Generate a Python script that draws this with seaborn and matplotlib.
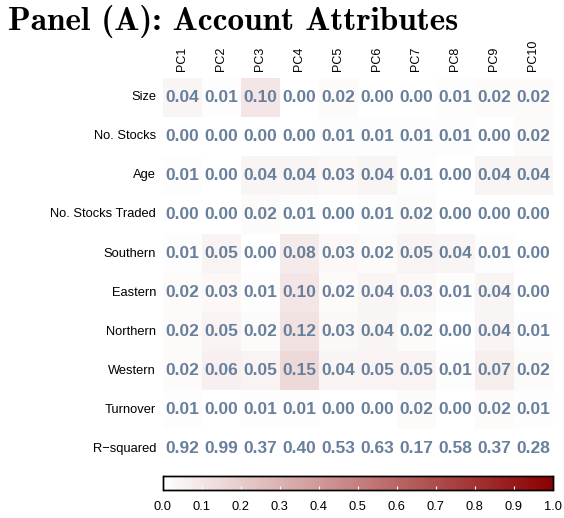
import numpy as np
import pandas as pd
import matplotlib
matplotlib.use('Agg')
import matplotlib.pyplot as plt
from matplotlib.colors import LinearSegmentedColormap
import seaborn as sns

# Data
rows = ['Size', 'No. Stocks', 'Age', 'No. Stocks Traded', 'Southern',
        'Eastern', 'Northern', 'Western', 'Turnover', 'R\u2212squared']
cols = ['PC1', 'PC2', 'PC3', 'PC4', 'PC5', 'PC6', 'PC7', 'PC8', 'PC9', 'PC10']

size = [0.04, 0.01, 0.10, 0.00, 0.02, 0.00, 0.00, 0.01, 0.02, 0.02]
no_stocks = [0.00, 0.00, 0.00, 0.00, 0.01, 0.01, 0.01, 0.01, 0.00, 0.02]
age = [0.01, 0.00, 0.04, 0.04, 0.03, 0.04, 0.01, 0.00, 0.04, 0.04]
no_traded = [0.00, 0.00, 0.02, 0.01, 0.00, 0.01, 0.02, 0.00, 0.00, 0.00]
southern = [0.01, 0.05, 0.00, 0.08, 0.03, 0.02, 0.05, 0.04, 0.01, 0.00]
eastern = [0.02, 0.03, 0.01, 0.10, 0.02, 0.04, 0.03, 0.01, 0.04, 0.00]
northern = [0.02, 0.05, 0.02, 0.12, 0.03, 0.04, 0.02, 0.00, 0.04, 0.01]
western = [0.02, 0.06, 0.05, 0.15, 0.04, 0.05, 0.05, 0.01, 0.07, 0.02]
turnover = [0.01, 0.00, 0.01, 0.01, 0.00, 0.00, 0.02, 0.00, 0.02, 0.01]
r_squared = [0.92, 0.99, 0.37, 0.40, 0.53, 0.63, 0.17, 0.58, 0.37, 0.28]

vals = pd.DataFrame([size, no_stocks, age, no_traded, southern, eastern,
                     northern, western, turnover, r_squared],
                    index=rows, columns=cols)
# R-squared row is not shaded
shade = vals.copy()
shade.iloc[-1] = 0.0

cmap = LinearSegmentedColormap.from_list('wr', ['#ffffff', '#8b0000'])

plt.rcParams['font.family'] = ['Liberation Sans', 'DejaVu Sans']

fig = plt.figure(figsize=(5.64, 5.18), dpi=100)
ax = fig.add_axes([0.289, 0.0955, 0.691, 0.7545])
cax = fig.add_axes([0.289, 0.054, 0.691, 0.027])

sns.heatmap(shade, ax=ax, cmap=cmap, vmin=0, vmax=1,
            annot=vals.values, fmt='.2f',
            annot_kws={'color': '#68809c', 'fontsize': 12.5, 'fontweight': 'bold'},
            cbar_ax=cax, cbar_kws={'orientation': 'horizontal',
                                   'ticks': np.arange(0, 1.01, 0.1)})

ax.xaxis.tick_top()
ax.set_xticklabels(cols, rotation=90, fontsize=9)
ax.set_yticklabels(rows, rotation=0, fontsize=9.3)
ax.tick_params(length=0, pad=5)
ax.set_xlabel('')
ax.set_ylabel('')

cax.tick_params(labelsize=9.3, length=3, direction='in', color='white', pad=8)
cax.set_xticklabels(['%.1f' % t for t in np.arange(0, 1.01, 0.1)])
for s in cax.spines.values():
    s.set_visible(True)
    s.set_color('black')
    s.set_linewidth(1)

fig.text(0.014, 0.958, 'Panel (A): Account Attributes', fontsize=24,
         fontfamily='cmb10', ha='left', va='center')

fig.savefig('out.png', dpi=100)
